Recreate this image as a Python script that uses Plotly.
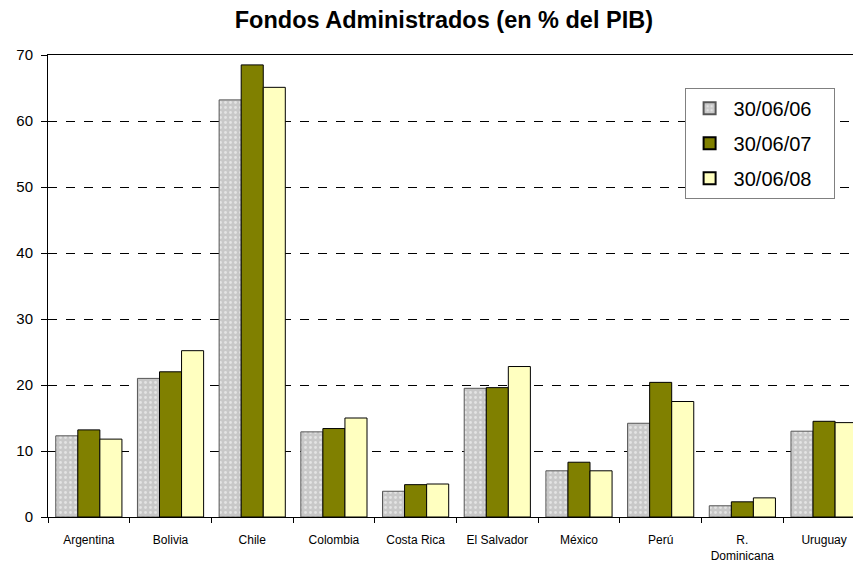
import plotly.graph_objects as go

categories = ["Argentina", "Bolivia", "Chile", "Colombia", "Costa Rica",
              "El Salvador", "México", "Perú", "R.<br>Dominicana", "Uruguay"]
s2006 = [12.3, 21.0, 63.2, 12.9, 3.9, 19.5, 7.0, 14.2, 1.7, 13.0]
s2007 = [13.2, 22.0, 68.5, 13.4, 4.9, 19.6, 8.3, 20.4, 2.3, 14.5]
s2008 = [11.8, 25.2, 65.1, 15.0, 5.0, 22.8, 7.0, 17.5, 2.9, 14.3]
series_names = ["30/06/06", "30/06/07", "30/06/08"]
y_ticks = [0, 10, 20, 30, 40, 50, 60, 70]

pad = "\u00a0\u00a0\u00a0"

fig = go.Figure()
fig.add_trace(go.Bar(
    x=categories, y=s2006, name=series_names[0] + pad, legendgroup="a",
    marker=dict(color="#c8c8c8", line=dict(color="#555555", width=1),
                pattern=dict(shape=".", fgcolor="#ffffff", bgcolor="#c8c8c8",
                             size=5, solidity=0.25)),
))
fig.add_trace(go.Bar(
    x=categories, y=s2007, name=series_names[1] + pad, legendgroup="b",
    marker=dict(color="#808000", line=dict(color="#000000", width=1)),
))
fig.add_trace(go.Bar(
    x=categories, y=s2008, name=series_names[2] + pad, legendgroup="c",
    marker=dict(color="#ffffc0", line=dict(color="#000000", width=1)),
))

# the page body has an 8px margin, so the figure is sized to fit the window
fig.update_layout(
    width=853, height=557,
    margin=dict(l=40, r=1, t=47, b=48, autoexpand=False),
    paper_bgcolor="white", plot_bgcolor="white",
    font=dict(family="Liberation Sans, Arial, sans-serif", color="black"),
    title=dict(text="<b>Fondos Administrados (en % del PIB)</b>",
               x=0.511, xanchor="center", y=0.978, yanchor="middle",
               font=dict(size=23.5, color="black")),
    barmode="group", bargap=0.19, bargroupgap=0,
    legend=dict(x=0.784, y=0.929, xanchor="left", yanchor="top",
                bgcolor="white", bordercolor="#808080", borderwidth=1,
                font=dict(size=20), tracegroupgap=6,
                itemsizing="constant", itemwidth=38),
)
fig.update_xaxes(
    range=[-0.5, 9.44], showline=True, linecolor="black", linewidth=1,
    mirror=True, ticks="outside", tickson="boundaries", ticklen=5,
    tickcolor="black", tickfont=dict(size=12), showgrid=False,
    automargin=False, ticklabelstandoff=12,
)
fig.update_yaxes(
    range=[0, 70], tickvals=y_ticks, showline=True, linecolor="black",
    linewidth=1, mirror=True, ticks="outside", ticklen=6, tickcolor="black",
    tickfont=dict(size=15), showgrid=True, gridcolor="black", gridwidth=1,
    griddash="dash", zeroline=False, automargin=False, ticklabelstandoff=5,
)

fig.write_html("out.html")
